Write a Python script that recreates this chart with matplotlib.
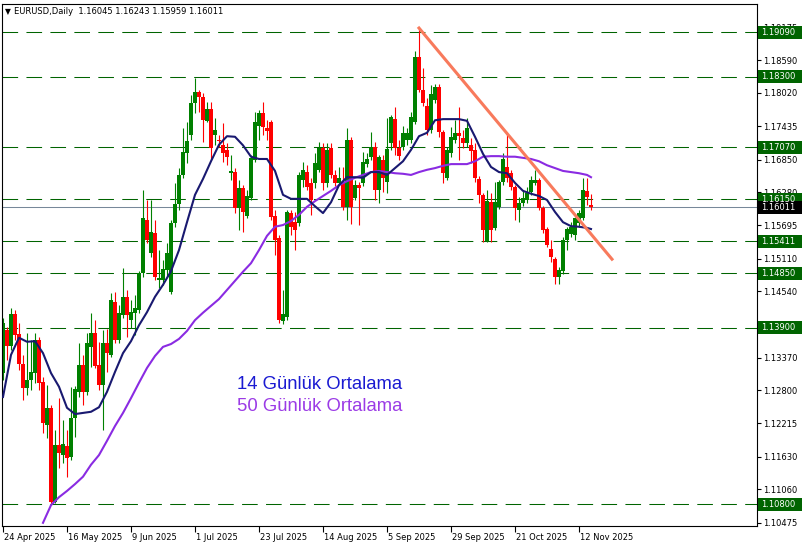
import numpy as np
import matplotlib
matplotlib.use("Agg")
import matplotlib.pyplot as plt
from matplotlib import transforms
from matplotlib.patches import Rectangle

# daily candles, 24 Apr 2025 .. 17 Nov 2025
opens = [1.1310, 1.1386, 1.1358, 1.1414, 1.1379, 1.1326, 1.1284, 1.1298, 1.1310, 1.1368,
         1.1294, 1.1219, 1.1249, 1.1084, 1.1184, 1.1166, 1.1182, 1.1163, 1.1231, 1.1277,
         1.1324, 1.1277, 1.1356, 1.1380, 1.1324, 1.1289, 1.1363, 1.1342, 1.1435, 1.1368,
         1.1412, 1.1444, 1.1403, 1.1416, 1.1421, 1.1486, 1.1579, 1.1521, 1.1556, 1.1474,
         1.1474, 1.1491, 1.1452, 1.1574, 1.1607, 1.1658, 1.1697, 1.1728, 1.1784, 1.1804,
         1.1795, 1.1753, 1.1774, 1.1728, 1.1719, 1.1710, 1.1702, 1.1661, 1.1663, 1.1600,
         1.1635, 1.1586, 1.1618, 1.1684, 1.1744, 1.1767, 1.1740, 1.1751, 1.1586, 1.1547,
         1.1402, 1.1409, 1.1591, 1.1576, 1.1574, 1.1649, 1.1663, 1.1644, 1.1644, 1.1667,
         1.1705, 1.1644, 1.1705, 1.1658, 1.1644, 1.1644, 1.1602, 1.1719, 1.1618, 1.1640,
         1.1644, 1.1677, 1.1690, 1.1707, 1.1632, 1.1684, 1.1646, 1.1714, 1.1756, 1.1705,
         1.1707, 1.1719, 1.1719, 1.1751, 1.1865, 1.1807, 1.1779, 1.1737, 1.1790, 1.1812,
         1.1733, 1.1653, 1.1697, 1.1719, 1.1732, 1.1723, 1.1714, 1.1710, 1.1702, 1.1651,
         1.1623, 1.1542, 1.1610, 1.1565, 1.1602, 1.1646, 1.1672, 1.1661, 1.1637, 1.1596,
         1.1609, 1.1614, 1.1628, 1.1644, 1.1649, 1.1600, 1.1563, 1.1528, 1.1510, 1.1479,
         1.1489, 1.1544, 1.1554, 1.1553, 1.1574, 1.1582, 1.1630, 1.16045]
highs = [1.1407, 1.1391, 1.1424, 1.1421, 1.1398, 1.1342, 1.1380, 1.1368, 1.1380, 1.1373,
         1.1303, 1.1289, 1.1254, 1.1210, 1.1266, 1.1228, 1.1210, 1.1286, 1.1287, 1.1363,
         1.1342, 1.1380, 1.1416, 1.1403, 1.1365, 1.1386, 1.1387, 1.1451, 1.1452, 1.1430,
         1.1495, 1.1456, 1.1438, 1.1447, 1.1489, 1.1632, 1.1614, 1.1614, 1.1579, 1.1526,
         1.1509, 1.1538, 1.1579, 1.1644, 1.1670, 1.1740, 1.1751, 1.1798, 1.1828, 1.1807,
         1.1802, 1.1786, 1.1786, 1.1758, 1.1728, 1.1749, 1.1714, 1.1693, 1.1670, 1.1649,
         1.1640, 1.1632, 1.1693, 1.1768, 1.1772, 1.1786, 1.1754, 1.1754, 1.1596, 1.1553,
         1.1456, 1.1596, 1.1596, 1.1593, 1.1663, 1.1681, 1.1675, 1.1653, 1.1697, 1.1716,
         1.1714, 1.1714, 1.1714, 1.1667, 1.1672, 1.1672, 1.1740, 1.1725, 1.1649, 1.1646,
         1.1698, 1.1697, 1.1733, 1.1716, 1.1693, 1.1693, 1.1758, 1.1763, 1.1777, 1.1719,
         1.1744, 1.1740, 1.1768, 1.1876, 1.1916, 1.1846, 1.1793, 1.1816, 1.1818, 1.1818,
         1.1737, 1.1707, 1.1742, 1.1754, 1.1777, 1.1737, 1.1758, 1.1723, 1.1714, 1.1656,
         1.1626, 1.1632, 1.1626, 1.1646, 1.1649, 1.1697, 1.1732, 1.1667, 1.1640, 1.1619,
         1.1632, 1.1637, 1.1656, 1.1667, 1.1653, 1.1603, 1.1567, 1.1544, 1.1514, 1.1496,
         1.1549, 1.1567, 1.1575, 1.1584, 1.1596, 1.1653, 1.1653, 1.16243]
lows = [1.1298, 1.1333, 1.1351, 1.1368, 1.1315, 1.1263, 1.1272, 1.1280, 1.1293, 1.1280,
        1.1205, 1.1196, 1.1080, 1.1082, 1.1143, 1.1152, 1.1128, 1.1157, 1.1198, 1.1268,
        1.1254, 1.1272, 1.1321, 1.1319, 1.1280, 1.1210, 1.1312, 1.1338, 1.1363, 1.1363,
        1.1407, 1.1373, 1.1389, 1.1377, 1.1416, 1.1479, 1.1538, 1.1514, 1.1474, 1.1460,
        1.1465, 1.1479, 1.1449, 1.1567, 1.1596, 1.1653, 1.1679, 1.1719, 1.1767, 1.1769,
        1.1716, 1.1751, 1.1684, 1.1710, 1.1707, 1.1681, 1.1676, 1.1649, 1.1591, 1.1561,
        1.1558, 1.1582, 1.1614, 1.1681, 1.1719, 1.1728, 1.1719, 1.1579, 1.1517, 1.1398,
        1.1396, 1.1403, 1.1553, 1.1526, 1.1568, 1.1637, 1.1632, 1.1588, 1.1635, 1.1663,
        1.1632, 1.1637, 1.1653, 1.1639, 1.1640, 1.1596, 1.1579, 1.1572, 1.1614, 1.1570,
        1.1639, 1.1672, 1.1684, 1.1614, 1.1609, 1.1628, 1.1626, 1.1702, 1.1693, 1.1684,
        1.1702, 1.1710, 1.1714, 1.1747, 1.1804, 1.1779, 1.1728, 1.1732, 1.1784, 1.1725,
        1.1644, 1.1649, 1.1690, 1.1714, 1.1684, 1.1705, 1.1707, 1.1679, 1.1646, 1.1609,
        1.1540, 1.1540, 1.1540, 1.1561, 1.1598, 1.1640, 1.1646, 1.1632, 1.1579, 1.1575,
        1.1603, 1.1609, 1.1623, 1.1640, 1.1596, 1.1556, 1.1531, 1.1505, 1.1467, 1.1467,
        1.1484, 1.1526, 1.1549, 1.1544, 1.1567, 1.1579, 1.1605, 1.15959]
closes = [1.1398, 1.1358, 1.1414, 1.1377, 1.1326, 1.1284, 1.1298, 1.1312, 1.1368, 1.1293,
          1.1222, 1.1249, 1.1084, 1.1184, 1.1170, 1.1185, 1.1161, 1.1231, 1.1282, 1.1324,
          1.1277, 1.1363, 1.1380, 1.1323, 1.1289, 1.1363, 1.1345, 1.1438, 1.1368, 1.1416,
          1.1444, 1.1412, 1.1417, 1.1424, 1.1486, 1.1582, 1.1544, 1.1558, 1.1479, 1.1477,
          1.1493, 1.1521, 1.1574, 1.1607, 1.1658, 1.1698, 1.1718, 1.1784, 1.1804, 1.1795,
          1.1754, 1.1774, 1.1705, 1.1737, 1.1718, 1.1697, 1.1690, 1.1665, 1.1600, 1.1635,
          1.1593, 1.1621, 1.1688, 1.1751, 1.1767, 1.1742, 1.1735, 1.1584, 1.1544, 1.1403,
          1.1414, 1.1593, 1.1567, 1.1561, 1.1658, 1.1667, 1.1637, 1.1614, 1.1679, 1.1705,
          1.1644, 1.1702, 1.1658, 1.1644, 1.1653, 1.1602, 1.1719, 1.1602, 1.1640, 1.1635,
          1.1681, 1.1686, 1.1707, 1.1632, 1.1690, 1.1653, 1.1703, 1.1760, 1.1705, 1.1691,
          1.1732, 1.1732, 1.1760, 1.1865, 1.1807, 1.1784, 1.1737, 1.1800, 1.1812, 1.1733,
          1.1661, 1.1702, 1.1725, 1.1732, 1.1726, 1.1714, 1.1740, 1.1700, 1.1653, 1.1623,
          1.1561, 1.1612, 1.1561, 1.1610, 1.1646, 1.1686, 1.1653, 1.1637, 1.1600, 1.1609,
          1.1618, 1.1626, 1.1649, 1.1649, 1.1600, 1.1561, 1.1535, 1.1514, 1.1479, 1.1491,
          1.1544, 1.1563, 1.1567, 1.1582, 1.1591, 1.1632, 1.1619, 1.16011]

# moving averages as drawn on the chart, read every second bar
ma_bars = list(range(0, 147, 2)) + [147]
ma14 = [1.1268, 1.1342, 1.1372, 1.1365, 1.1366, 1.1345, 1.1310, 1.1286, 1.1249, 1.1238,
        1.1240, 1.1242, 1.1250, 1.1277, 1.1312, 1.1345, 1.1366, 1.1394, 1.1417, 1.1444,
        1.1465, 1.1489, 1.1526, 1.1575, 1.1623, 1.1651, 1.1682, 1.1711, 1.1726, 1.1725,
        1.1710, 1.1690, 1.1686, 1.1686, 1.1665, 1.1623, 1.1616, 1.1616, 1.1616, 1.1603,
        1.1591, 1.1610, 1.1640, 1.1654, 1.1654, 1.1653, 1.1663, 1.1663, 1.1658, 1.1670,
        1.1682, 1.1702, 1.1726, 1.1732, 1.1754, 1.1756, 1.1756, 1.1756, 1.1753, 1.1725,
        1.1695, 1.1672, 1.1663, 1.1661, 1.1644, 1.1630, 1.1625, 1.1621, 1.1614, 1.1593,
        1.1575, 1.1568, 1.1567, 1.1565, 1.1563]
ma50_bars = list(range(10, 147, 2)) + [147]
ma50 = [1.1047, 1.1078, 1.1092, 1.1103, 1.1115, 1.1128, 1.1149, 1.1166, 1.1191, 1.1217,
        1.1240, 1.1266, 1.1293, 1.1319, 1.1340, 1.1356, 1.1361, 1.1370, 1.1384, 1.1403,
        1.1416, 1.1428, 1.1440, 1.1456, 1.1472, 1.1488, 1.1503, 1.1526, 1.1551, 1.1567,
        1.1570, 1.1577, 1.1588, 1.1602, 1.1612, 1.1621, 1.1630, 1.1640, 1.1647, 1.1653,
        1.1658, 1.1663, 1.1665, 1.1663, 1.1661, 1.1660, 1.1658, 1.1663, 1.1667, 1.1670,
        1.1674, 1.1677, 1.1677, 1.1677, 1.1682, 1.1690, 1.1691, 1.1691, 1.1690, 1.1690,
        1.1688, 1.1686, 1.1682, 1.1675, 1.1670, 1.1665, 1.1663, 1.1661, 1.1658, 1.1654]

levels = [1.19090, 1.18300, 1.17070, 1.16150, 1.15411, 1.14850, 1.13900, 1.10800]
last_price = 1.16011
trend_bars = [104, 152.25]
trend_prices = [1.1916, 1.1510]

price_ticks = [1.10475, 1.11060, 1.11630, 1.12215, 1.12800, 1.13370, 1.14540,
               1.15110, 1.15695, 1.16280, 1.16850, 1.17435, 1.18020, 1.18590, 1.19175]
date_bars = [0, 16, 32, 48, 64, 80, 96, 112, 128, 144]
date_labels = ["24 Apr 2025", "16 May 2025", "9 Jun 2025", "1 Jul 2025", "23 Jul 2025",
               "14 Aug 2025", "5 Sep 2025", "29 Sep 2025", "21 Oct 2025", "12 Nov 2025"]

GREEN = "#008000"
LEVEL = "#006400"

fig = plt.figure(figsize=(8.03, 5.47), dpi=100)
ax = fig.add_axes([2 / 803, 21 / 547, 755 / 803, 522 / 547])
ax.set_xlim(-0.25, 188.5)
ax.set_ylim(1.10414, 1.19582)
for s in ax.spines.values():
    s.set_linewidth(0.8)
    s.set_color("black")

o = np.array(opens)
h = np.array(highs)
l = np.array(lows)
c = np.array(closes)
x = np.arange(len(o))
cols = np.where(c >= o, GREEN, "#ff0000")

for lv in levels:
    ax.axhline(lv, color=LEVEL, lw=0.75, linestyle=(0, (15, 8)), zorder=1)
ax.axhline(last_price, color="#778899", lw=0.75, zorder=1)

ax.vlines(x, l, h, colors=cols, lw=0.8, zorder=2)
body = np.maximum(np.abs(c - o), 0.00018)
ax.bar(x, body, bottom=np.minimum(o, c), width=0.8, color=cols, linewidth=0, zorder=2)

ax.plot(ma50_bars, ma50, color="#8a2be2", lw=1.5, zorder=3)
ax.plot(ma_bars, ma14, color="#191970", lw=1.5, zorder=4)
ax.plot(trend_bars, trend_prices, color="#f87a5c", lw=2.2, zorder=5)

# price scale on the right
ax.yaxis.tick_right()
ax.set_yticks(price_ticks)
ax.set_yticklabels([f"{v:.5f}" for v in price_ticks])
ax.tick_params(axis="y", direction="out", length=3, width=0.8, pad=1.5, labelsize=6)

bt = transforms.blended_transform_factory(ax.transAxes, ax.transData)
px = 0.00017562
for lv in levels:
    ax.add_patch(Rectangle((1.0013, lv - 6.5 * px), 0.0583, 13 * px, transform=bt,
                           facecolor=LEVEL, edgecolor="none", clip_on=False, zorder=6))
    ax.text(1.0055, lv, f"{lv:.5f}", transform=bt, color="white", fontsize=6,
            va="center", ha="left", clip_on=False, zorder=7)
ax.add_patch(Rectangle((1.0013, last_price - 6.5 * px), 0.0583, 13 * px, transform=bt,
                       facecolor="black", edgecolor="none", clip_on=False, zorder=6))
ax.text(1.0055, last_price, f"{last_price:.5f}", transform=bt, color="white", fontsize=6,
        va="center", ha="left", clip_on=False, zorder=7)

# date scale
ax.set_xticks(date_bars)
ax.set_xticklabels(date_labels)
ax.tick_params(axis="x", direction="out", length=4, width=0.8, pad=1, labelsize=6)
shift = transforms.ScaledTranslation(1.5 / 100, 0, fig.dpi_scale_trans)
for lbl in ax.get_xticklabels():
    lbl.set_horizontalalignment("left")
    lbl.set_transform(lbl.get_transform() + shift)

fig.text(5 / 803, 1 - 14 / 547, "\u25bc", fontsize=5.5, va="baseline")
fig.text(14 / 803, 1 - 14 / 547, "EURUSD,Daily  1.16045 1.16243 1.15959 1.16011",
         fontsize=6, va="baseline")

fig.text(237 / 803, 1 - 389 / 547, "14 Günlük Ortalama", color="#1a1ad2",
         fontsize=13.3, family="Liberation Sans", va="baseline")
fig.text(237 / 803, 1 - 411 / 547, "50 Günlük Ortalama", color="#9b3be6",
         fontsize=13.3, family="Liberation Sans", va="baseline")

fig.savefig("out.png", dpi=100, facecolor="white")
